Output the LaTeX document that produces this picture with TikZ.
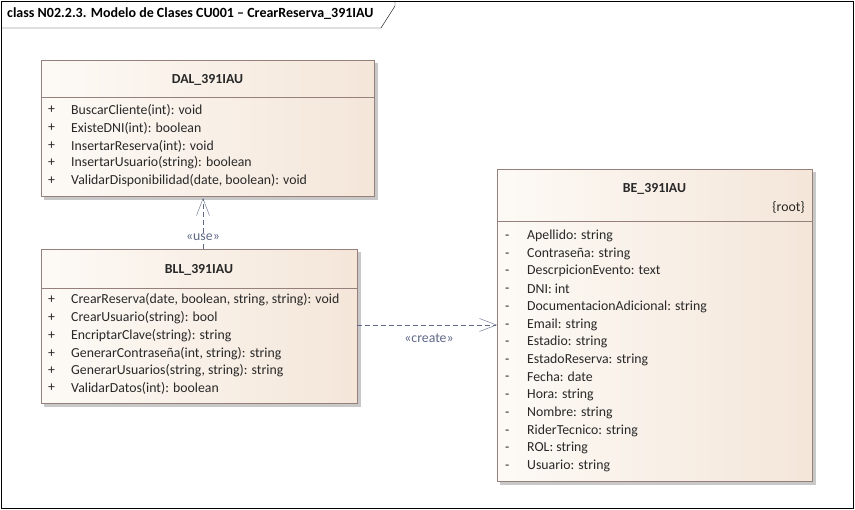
\documentclass[tikz,border=0pt]{standalone}
\usepackage{fontspec}
\setmainfont{Carlito}
\usetikzlibrary{arrows.meta}

\definecolor{boxleft}{RGB}{253,250,246}
\definecolor{boxright}{RGB}{244,230,217}
\definecolor{boxline}{RGB}{150,128,124}
\definecolor{boxshadow}{RGB}{200,200,200}
\definecolor{txt}{RGB}{40,40,40}
\definecolor{dep}{RGB}{95,105,135}

\tikzset{
	classbox/.style={draw=boxline,left color=boxleft,right color=boxright,anchor=north west,inner sep=0pt},
	shadowbox/.style={fill=boxshadow},
	classname/.style={font=\bfseries\fontsize{13.8}{15}\selectfont,text=txt},
	member/.style={font=\fontsize{13.8}{15}\selectfont,text=txt,anchor=west,inner sep=0pt},
	depline/.style={draw=dep,dashed,dash pattern=on 5pt off 3pt,-{Straight Barb[length=17pt,width=13pt]}},
	deplabel/.style={font=\fontsize{13.8}{15}\selectfont,text=dep,fill=white,inner sep=0.5pt}
}

\begin{document}
\begin{tikzpicture}[x=1pt,y=-1pt]
	
	\useasboundingbox (0,0) rectangle (855,510);
	\fill[white] (0,0) rectangle (855,510);
	
	% frame
	\draw[black] (1,1) rectangle (853,508);
	\draw[black] (1,28) -- (381,28) -- (395,6) -- (395,1);
	\node[font=\bfseries\fontsize{14}{15}\selectfont,anchor=west,inner sep=0pt] (title) at (7,14) {class N02.2.3. Modelo de Clases CU001 – CrearReserva\_391IAU};
	
	% DAL
	\fill[shadowbox] (44,63) rectangle (378,200);
	\node[classbox,minimum width=333pt,minimum height=136pt] (dal) at (41,60) {};
	\draw[boxline] (41,97) -- (374,97);
	\node[classname] (dalname) at (207.5,80) {DAL\_391IAU};
	\node[member] (dalp1) at (48,110) {+};
	\node[member] (dalp2) at (48,128) {+};
	\node[member] (dalp3) at (48,146) {+};
	\node[member] (dalp4) at (48,163) {+};
	\node[member] (dalp5) at (48,181) {+};
	\node[member] (dalm1) at (71,110) {BuscarCliente(int): void};
	\node[member] (dalm2) at (71,128) {ExisteDNI(int): boolean};
	\node[member] (dalm3) at (71,146) {InsertarReserva(int): void};
	\node[member] (dalm4) at (71,163) {InsertarUsuario(string): boolean};
	\node[member] (dalm5) at (71,181) {ValidarDisponibilidad(date, boolean): void};
	
	% BLL
	\fill[shadowbox] (44,252) rectangle (361,407);
	\node[classbox,minimum width=316pt,minimum height=154pt] (bll) at (41,249) {};
	\draw[boxline] (41,288) -- (357,288);
	\node[classname] (bllname) at (199,270) {BLL\_391IAU};
	\node[member] (bllp1) at (48,300) {+};
	\node[member] (bllp2) at (48,318) {+};
	\node[member] (bllp3) at (48,336) {+};
	\node[member] (bllp4) at (48,354) {+};
	\node[member] (bllp5) at (48,371) {+};
	\node[member] (bllp6) at (48,388) {+};
	\node[member] (bllm1) at (71,300) {CrearReserva(date, boolean, string, string): void};
	\node[member] (bllm2) at (71,318) {CrearUsuario(string): bool};
	\node[member] (bllm3) at (71,336) {EncriptarClave(string): string};
	\node[member] (bllm4) at (71,354) {GenerarContraseña(int, string): string};
	\node[member] (bllm5) at (71,371) {GenerarUsuarios(string, string): string};
	\node[member] (bllm6) at (71,388) {ValidarDatos(int): boolean};
	
	% BE
	\fill[shadowbox] (500,172) rectangle (816,485);
	\node[classbox,minimum width=315pt,minimum height=312pt] (be) at (497,169) {};
	\draw[boxline] (497,221) -- (812,221);
	\node[classname] (bename) at (654.5,189) {BE\_391IAU};
	\node[member,anchor=east] (beroot) at (805,207) {\{root\}};
	\node[member] (bep1) at (505,237) {-};
	\node[member] (bep2) at (505,255) {-};
	\node[member] (bep3) at (505,272) {-};
	\node[member] (bep4) at (505,290) {-};
	\node[member] (bep5) at (505,308) {-};
	\node[member] (bep6) at (505,326) {-};
	\node[member] (bep7) at (505,343) {-};
	\node[member] (bep8) at (505,361) {-};
	\node[member] (bep9) at (505,378) {-};
	\node[member] (bep10) at (505,396) {-};
	\node[member] (bep11) at (505,414) {-};
	\node[member] (bep12) at (505,432) {-};
	\node[member] (bep13) at (505,449) {-};
	\node[member] (bep14) at (505,467) {-};
	\node[member] (bem1) at (527,236) {Apellido: string};
	\node[member] (bem2) at (527,254) {Contraseña: string};
	\node[member] (bem3) at (527,271) {DescrpicionEvento: text};
	\node[member] (bem4) at (527,289) {DNI: int};
	\node[member] (bem5) at (527,307) {DocumentacionAdicional: string};
	\node[member] (bem6) at (527,325) {Email: string};
	\node[member] (bem7) at (527,342) {Estadio: string};
	\node[member] (bem8) at (527,360) {EstadoReserva: string};
	\node[member] (bem9) at (527,377) {Fecha: date};
	\node[member] (bem10) at (527,395) {Hora: string};
	\node[member] (bem11) at (527,413) {Nombre: string};
	\node[member] (bem12) at (527,431) {RiderTecnico: string};
	\node[member] (bem13) at (527,448) {ROL: string};
	\node[member] (bem14) at (527,466) {Usuario: string};
	
	% dependencies
	\coordinate (usefrom) at (203,249);
	\coordinate (useto) at (203,198);
	\draw[depline] (usefrom) -- (useto);
	\node[deplabel] (uselabel) at (203,237) {«use»};
	
	\coordinate (createfrom) at (357,325);
	\coordinate (createto) at (497,325);
	\draw[depline] (createfrom) -- (createto);
	\node[font=\fontsize{13.8}{15}\selectfont,text=dep] (createlabel) at (429,338) {«create»};
	
\end{tikzpicture}
\end{document}
